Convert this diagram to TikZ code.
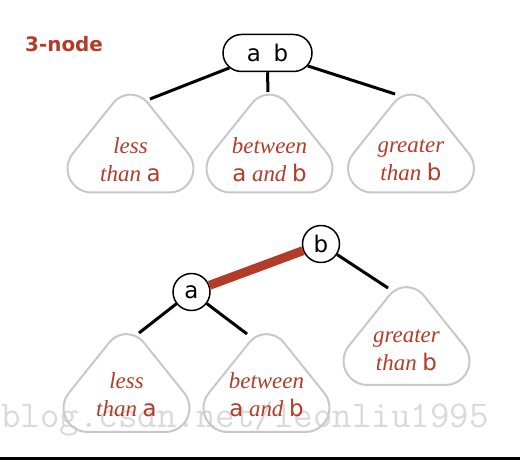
\documentclass[tikz,border=0pt]{standalone}
\usepackage{fontspec}
\setmainfont{Liberation Serif}
\setsansfont{DejaVu Sans}
\usepackage{tikz}
\usetikzlibrary{shapes.misc}
\definecolor{keyred}{RGB}{178,60,40}
\definecolor{treegray}{RGB}{200,200,200}
\definecolor{markgray}{RGB}{218,218,218}
\newcommand{\keyletter}[1]{\textsf{\upshape #1}}

\begin{document}
\begin{tikzpicture}[line join=round,
  keynode/.style={draw=black,line width=1.5bp,fill=white,inner sep=0pt,font=\fontsize{23}{27}\sffamily},
  link/.style={black,line width=3bp},
  redlink/.style={keyred,line width=9bp},
  subtree/.style={draw=treegray,line width=2bp},
  rangetext/.style={align=center,inner sep=0pt,text=keyred,font=\fontsize{23}{28}\selectfont\itshape},
]
\useasboundingbox (0bp,0bp) rectangle (520bp,460bp);
%%
\node (mark) at (1bp,33bp) [anchor=base west,inner sep=0pt,text=markgray,font=\fontsize{38}{38}\ttfamily] {blog.csdn.net/leonliu1995};
\fill [black] (0bp,0bp) rectangle (520bp,3bp);
\node (title) at (25bp,408bp) [anchor=base west,inner sep=0pt,text=keyred,font=\fontsize{20}{24}\sffamily\bfseries] {3-node};
%% 3-node
\node (node_ab) at (267.5bp,407bp) [keynode,rounded rectangle,minimum width=89bp,minimum height=37bp] {a\hspace{0.55em}b};
  \draw [subtree] (130.5bp,267.5bp) -- ++(39bp,0bp) arc[start angle=-90,end angle=38.72,radius=24bp] -- ++(-40.56bp,50.59bp) arc[start angle=38.72,end angle=141.28,radius=22bp] -- ++(-40.56bp,-50.59bp) arc[start angle=141.28,end angle=270,radius=24bp] -- cycle;
  \draw [subtree] (269.5bp,267.5bp) -- ++(39bp,0bp) arc[start angle=-90,end angle=38.72,radius=24bp] -- ++(-40.56bp,50.59bp) arc[start angle=38.72,end angle=141.28,radius=22bp] -- ++(-40.56bp,-50.59bp) arc[start angle=141.28,end angle=270,radius=24bp] -- cycle;
  \draw [subtree] (411bp,267.5bp) -- ++(39bp,0bp) arc[start angle=-90,end angle=38.72,radius=24bp] -- ++(-40.56bp,50.59bp) arc[start angle=38.72,end angle=141.28,radius=22bp] -- ++(-40.56bp,-50.59bp) arc[start angle=141.28,end angle=270,radius=24bp] -- cycle;
  \node (tree_0) at (130.5bp,300bp) [rangetext] {less\\than \keyletter{a}};
  \node (tree_1) at (269.5bp,300bp) [rangetext] {between\\\keyletter{a} and \keyletter{b}};
  \node (tree_2) at (411bp,300bp) [rangetext] {greater\\than \keyletter{b}};
  \coordinate (end_0) at (150bp,361bp);
  \coordinate (end_1) at (268bp,368bp);
  \coordinate (end_2) at (395bp,366bp);
  \draw [link] (node_ab) -- (end_0);
  \draw [link] (node_ab.south) -- (end_1);
  \draw [link] (node_ab) -- (end_2);
%% two 2-nodes
\node (node_b) at (321bp,216bp) [keynode,circle,minimum size=37bp] {b};
  \node (node_a) at (191.5bp,168bp) [keynode,circle,minimum size=37bp] {a};
  \draw [subtree] (126.5bp,28bp) -- ++(39bp,0bp) arc[start angle=-90,end angle=38.72,radius=24bp] -- ++(-40.56bp,50.59bp) arc[start angle=38.72,end angle=141.28,radius=22bp] -- ++(-40.56bp,-50.59bp) arc[start angle=141.28,end angle=270,radius=24bp] -- cycle;
  \draw [subtree] (266.5bp,28bp) -- ++(39bp,0bp) arc[start angle=-90,end angle=38.72,radius=24bp] -- ++(-40.56bp,50.59bp) arc[start angle=38.72,end angle=141.28,radius=22bp] -- ++(-40.56bp,-50.59bp) arc[start angle=141.28,end angle=270,radius=24bp] -- cycle;
  \draw [subtree] (406.5bp,75bp) -- ++(39bp,0bp) arc[start angle=-90,end angle=38.72,radius=24bp] -- ++(-40.56bp,50.59bp) arc[start angle=38.72,end angle=141.28,radius=22bp] -- ++(-40.56bp,-50.59bp) arc[start angle=141.28,end angle=270,radius=24bp] -- cycle;
  \node (tree_3) at (126.5bp,65bp) [rangetext] {less\\than \keyletter{a}};
  \node (tree_4) at (266.5bp,65bp) [rangetext] {between\\\keyletter{a} and \keyletter{b}};
  \node (tree_5) at (406.5bp,110bp) [rangetext] {greater\\than \keyletter{b}};
  \coordinate (end_3) at (139bp,127bp);
  \coordinate (end_4) at (247bp,126bp);
  \coordinate (end_5) at (388bp,172bp);
  \draw [redlink] (node_a) -- (node_b);
  \draw [link] (node_a) -- (end_3);
  \draw [link] (node_a) -- (end_4);
  \draw [link] (node_b) -- (end_5);
%
\end{tikzpicture}
\end{document}
